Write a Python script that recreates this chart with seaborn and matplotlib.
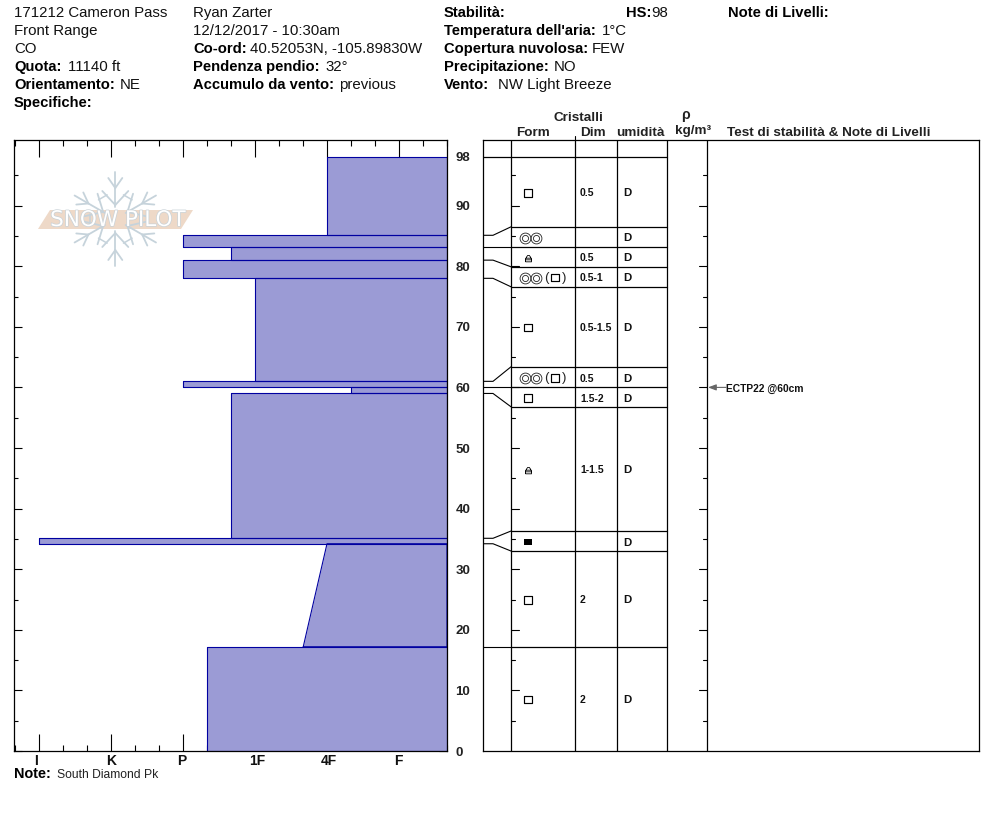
import matplotlib
matplotlib.use("Agg")
import matplotlib.pyplot as plt
import matplotlib.patheffects as pe
import numpy as np
import pandas as pd
import seaborn as sns
from matplotlib.patches import Polygon
from matplotlib.path import Path

# snow layers, bottom to top (depth in cm, hardness as index I=1 ... F=6)
layer_bottom = [0, 17.2, 34.2, 35.1, 59, 60, 61, 78, 81, 83.2, 85.1]
layer_top = [17.2, 34.2, 35.1, 59, 60, 61, 78, 81, 83.2, 85.1, 98]
hard_bottom = [3.33, 4.67, 1, 3.67, 5.33, 3, 4, 3, 3.67, 3, 5]
hard_top = [3.33, 5, 1, 3.67, 5.33, 3, 4, 3, 3.67, 3, 5]
hard_labels = ["I", "K", "P", "1F", "4F", "F"]

# grain table, top to bottom
row_edges = [98, 86.5, 83.2, 79.9, 76.6, 63.4, 60, 56.8, 36.3, 33, 17.2, 0]
link_layer = [85.1, 83.2, 81, 78, 61, 60, 59, 35.1, 34.2, 17.2]
link_row = [86.5, 83.2, 79.9, 76.6, 63.4, 60, 56.8, 36.3, 33, 17.2]
form_main = ["sq", "dbl", "lock", "dbl", "sq", "dbl", "sq", "lock", "ice", "sq", "sq"]
form_alt = ["", "", "", "sq", "", "sq", "", "", "", "", ""]
grain_size = ["0.5", "", "0.5", "0.5-1", "0.5-1.5", "0.5", "1.5-2", "1-1.5", "", "2", "2"]
moisture = ["D"] * 11

# header: (x, y, bold text, value x, value)
header = [
    (14, 13, "", 14, "171212 Cameron Pass"),
    (14, 31, "", 14, "Front Range"),
    (14, 49, "", 14, "CO"),
    (14, 67, "Quota:", 68, "11140 ft"),
    (14, 85, "Orientamento:", 120, "NE"),
    (14, 103, "Specifiche:", 0, ""),
    (193, 13, "", 193, "Ryan Zarter"),
    (193, 31, "", 193, "12/12/2017 - 10:30am"),
    (193, 49, "Co-ord:", 250, "40.52053N, -105.89830W"),
    (193, 67, "Pendenza pendio:", 325, "32°"),
    (193, 85, "Accumulo da vento:", 339, "previous"),
    (444, 13, "Stabilità:", 0, ""),
    (626, 13, "HS:", 651, "98"),
    (444, 31, "Temperatura dell'aria:", 602, "1°C"),
    (444, 49, "Copertura nuvolosa:", 592, "FEW"),
    (444, 67, "Precipitazione:", 554, "NO"),
    (444, 85, "Vento:", 498, "NW Light Breeze"),
    (728, 13, "Note di Livelli:", 0, ""),
]

sns.set_theme(style="white")
plt.rcParams["font.family"] = ["Liberation Sans", "DejaVu Sans"]

W, H = 994, 840
FILL = "#9b9bd5"
EDGE = "#0000a0"
PX_CM = 6.06
YMAX = (751 - 140) / PX_CM
fig = plt.figure(figsize=(W / 100, H / 100), dpi=100, facecolor="white")


def box(left, top, right, bottom):
    return [left / W, 1 - bottom / H, (right - left) / W, (bottom - top) / H]


# hardness profile
ax = fig.add_axes(box(14, 140, 447, 751))
ax.set_xlim(1 - 25 / 72, 6 + 48 / 72)
ax.set_ylim(0, YMAX)
xright = ax.get_xlim()[1]
rows = []
for i in range(len(layer_top)):
    xs = [hard_bottom[i], hard_top[i], xright, xright, hard_bottom[i]]
    ys = [layer_bottom[i], layer_top[i], layer_top[i], layer_bottom[i], layer_bottom[i]]
    ax.fill_betweenx([layer_bottom[i], layer_top[i]], [hard_bottom[i], hard_top[i]], xright,
                     color=FILL, lw=0)
    rows += [{"layer": i, "hard": x, "depth": y} for x, y in zip(xs, ys)]
sns.lineplot(data=pd.DataFrame(rows), x="hard", y="depth", units="layer", estimator=None,
             sort=False, orient="y", color=EDGE, lw=0.8, ax=ax, legend=False)
ax.set_xlabel("")
ax.set_ylabel("")
ax.set_xticks(range(1, 7))
ax.set_xticklabels([])
ax.set_xticks(np.arange(1 - 1 / 3, 6.67, 1 / 3), minor=True)
ax.set_yticks(range(0, 100, 10))
ax.set_yticks(range(5, 100, 10), minor=True)
ax.tick_params(axis="x", which="major", direction="in", top=True, bottom=True, length=12, width=0.8,
               color="black")
ax.tick_params(axis="x", which="minor", direction="in", top=True, bottom=True, length=4, width=0.8,
               color="black")
ax.tick_params(axis="y", which="major", direction="in", left=True, right=True, length=5.8, width=0.8,
               labelleft=False, labelright=True, labelsize=9.5, pad=6, color="black",
               labelcolor="#222222")
ax.tick_params(axis="y", which="minor", direction="in", left=True, right=True, length=2.9, width=0.8,
               color="black")
for lab in ax.get_yticklabels():
    lab.set_fontweight("bold")
for s in ax.spines.values():
    s.set_visible(True)
    s.set_color("black")
    s.set_linewidth(0.9)

# grain table, x in page pixels and y in depth
tb = fig.add_axes(box(483, 140, 979, 751))
tb.set_xlim(483, 979)
tb.set_ylim(0, YMAX)
tb.set_xticks([])
tb.set_yticks([])
for s in tb.spines.values():
    s.set_visible(True)
    s.set_color("black")
    s.set_linewidth(0.9)
for x in [511, 575, 617, 667, 707]:
    tb.axvline(x, color="black", lw=0.9)
tb.plot([483, 667], [98, 98], color="black", lw=0.9)
for d in row_edges[1:-1]:
    tb.plot([511, 667], [d, d], color="black", lw=0.9)
for a, b in zip(link_layer, link_row):
    tb.plot([483, 493, 511], [a, a, b], color="black", lw=0.8)
for d in range(5, 100, 5):
    n = 8 if d % 10 == 0 else 4
    tb.plot([511, 511 + n], [d, d], color="black", lw=0.8)
    tb.plot([707 - n, 707], [d, d], color="black", lw=0.8)

lock_path = Path(
    [(-0.9, -1), (0.9, -1), (0.9, 0.1), (-0.9, 0.1), (-0.9, -1), (-0.9, -0.4), (0.9, -0.4),
     (-0.6, 0.1), (-0.6, 1.25), (0.6, 1.25), (0.6, 0.1)],
    [Path.MOVETO, Path.LINETO, Path.LINETO, Path.LINETO, Path.LINETO, Path.MOVETO, Path.LINETO,
     Path.MOVETO, Path.CURVE4, Path.CURVE4, Path.CURVE4])


def draw_square(x, y):
    sns.scatterplot(x=[x], y=[y], marker="s", s=27, facecolor="none", edgecolor="black", linewidth=0.85,
                    ax=tb, legend=False, clip_on=False)


def draw_form(name, x, y):
    if name == "sq":
        draw_square(x, y)
    elif name == "lock":
        tb.plot([x], [y], marker=lock_path, ms=6, mfc="none", mec="black", mew=0.6)
    elif name == "ice":
        tb.fill_between([x - 4, x + 4], y - 3 / PX_CM, y + 3 / PX_CM, color="black", lw=0)
    elif name == "dbl":
        for cx in [x - 2.7, x + 8.3]:
            tb.plot([cx], [y], marker="o", ms=7.8, mfc="none", mec="#222222", mew=0.6)
            tb.plot([cx], [y], marker="o", ms=4.4, mfc="none", mec="#222222", mew=0.6)


for i in range(len(form_main)):
    mid = (row_edges[i] + row_edges[i + 1]) / 2
    sym = mid - 1 / PX_CM
    draw_form(form_main[i], 528, sym)
    if form_alt[i]:
        tb.text(546, sym, "(", fontsize=9.5, ha="center", va="center", color="#222222")
        draw_form(form_alt[i], 555, sym)
        tb.text(564, sym, ")", fontsize=9.5, ha="center", va="center", color="#222222")
    tb.text(580, mid - 1.5 / PX_CM, grain_size[i], fontsize=7.5, fontweight="bold", va="center", color="#111111")
    tb.text(623, mid - 1.5 / PX_CM, moisture[i], fontsize=8.2, fontweight="bold", va="center", color="#111111")

tb.annotate("", xy=(708, 60), xytext=(726, 60),
            arrowprops=dict(arrowstyle="-|>,head_width=0.15,head_length=0.4", color="#666666", lw=0.8,
                            shrinkA=0, shrinkB=0))
tb.text(726, 59.8, "ECTP22 @60cm", fontsize=7.35, fontweight="bold", va="center", color="#111111")

# page overlay for texts and logo, in image pixels
pg = fig.add_axes([0, 0, 1, 1], zorder=5)
pg.set_xlim(0, W)
pg.set_ylim(H, 0)
pg.axis("off")
pg.patch.set_alpha(0)

for x, y, bold, vx, val in header:
    if bold:
        pg.text(x, y, bold, fontsize=10.6, fontweight="bold", va="center", color="black")
    if val:
        pg.text(vx, y, val, fontsize=10.8, va="center", color="#111111")

pg.text(456, 158, "98", fontsize=9.5, fontweight="bold", va="center", color="#222222")
label_x = [36, 111, 182, 257, 329, 398]
for x, lab in zip(label_x, hard_labels):
    pg.text(x, 761, lab, fontsize=10, fontweight="bold", ha="center", va="center", color="#111111")
pg.text(14, 774, "Note:", fontsize=10.4, fontweight="bold", va="center", color="black")
pg.text(57, 775, "South Diamond Pk", fontsize=8.7, va="center", color="#222222")

pg.text(578, 118, "Cristalli", fontsize=9.7, fontweight="bold", ha="center", va="center", color="#222222")
pg.text(516, 133, "Form", fontsize=9.7, fontweight="bold", va="center", color="#222222")
pg.text(580, 133, "Dim", fontsize=9.7, fontweight="bold", va="center", color="#222222")
pg.text(616, 133, "umidità", fontsize=9.7, fontweight="bold", va="center", color="#222222")
pg.text(685, 115, "ρ", fontsize=10, fontweight="bold", ha="center", va="center", color="#222222")
pg.text(675, 131, "kg/m³", fontsize=9.7, fontweight="bold", va="center", color="#222222")
pg.text(727, 133, "Test di stabilità & Note di Livelli", fontsize=9.7, fontweight="bold", va="center",
        color="#222222")
pg.plot([575, 575], [136, 140], color="black", lw=0.8)

# logo
FLAKE = "#c6d3db"
cx, cy = 115.3, 219
for ang in [90, 30, -30, -90, 150, 210]:
    t = np.deg2rad(ang)
    ux, uy = np.cos(t), -np.sin(t)
    vx, vy = -uy, ux
    pg.plot([cx + 12 * ux, cx + 47 * ux], [cy + 12 * uy, cy + 47 * uy], color=FLAKE, lw=1.3)
    for r0, r1, off in [(14, 28, 13), (31, 41, 7)]:
        for sgn in [-1, 1]:
            pg.plot([cx + r0 * ux, cx + r1 * ux + sgn * off * vx],
                    [cy + r0 * uy, cy + r1 * uy + sgn * off * vy], color=FLAKE, lw=1.3)
    t2 = t + np.pi / 6
    ux2, uy2 = np.cos(t2), -np.sin(t2)
    vx2, vy2 = -uy2, ux2
    pg.plot([cx + 25 * ux2 - 5 * vx2, cx + 25 * ux2 + 5 * vx2],
            [cy + 25 * uy2 - 5 * vy2, cy + 25 * uy2 + 5 * vy2], color=FLAKE, lw=1.1)
pg.add_patch(Polygon([(38, 229), (50, 210), (193, 210), (181, 229)], closed=True, color="#eed9c8", lw=0))
banner = pg.text(118, 220, "SNOW PILOT", fontsize=15.5, ha="center", va="center", color="white",
                 family="DejaVu Sans")
banner.set_path_effects([pe.withStroke(linewidth=1.0, foreground="#c9d2d8")])

fig.savefig("out.png", dpi=100, facecolor="white")
